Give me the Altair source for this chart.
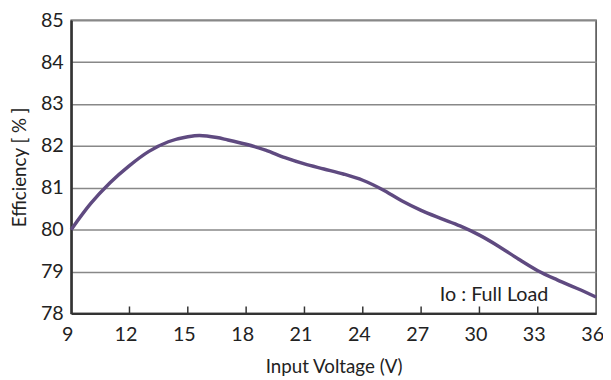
import altair as alt
import pandas as pd

voltage = [9, 10, 11, 12, 13, 14, 15, 15.6, 16.5, 17, 18, 19, 20, 21, 22, 23, 24, 25, 26, 27, 28, 29, 30, 31, 32, 33, 34, 35, 36]
efficiency = [80.0, 80.62, 81.12, 81.53, 81.87, 82.1, 82.22, 82.25, 82.2, 82.15, 82.04, 81.9, 81.72, 81.57, 81.45, 81.33, 81.18, 80.96, 80.69, 80.46, 80.27, 80.09, 79.87, 79.6, 79.3, 79.02, 78.8, 78.6, 78.39]
x_ticks = [9, 12, 15, 18, 21, 24, 27, 30, 33, 36]
inner_ticks = [12, 15, 18, 21, 24, 27, 30, 33]
y_ticks = [78, 79, 80, 81, 82, 83, 84, 85]
note = "Io : Full Load"

FONT = "Lato"
W, H = 532, 297

df = pd.DataFrame({"v": voltage, "e": efficiency})
ticks_df = pd.DataFrame({"v": inner_ticks})

xscale = alt.Scale(domain=[9, 36], nice=False, zero=False)
yscale = alt.Scale(domain=[78, 85], nice=False, zero=False)

line = alt.Chart(df).mark_line(
    color="#5f4a80", strokeWidth=3.5, interpolate="monotone"
).encode(
    x=alt.X("v:Q", scale=xscale, title="Input Voltage (V)",
            axis=alt.Axis(values=x_ticks, grid=False, ticks=False, labelPadding=11,
                          labelOffset=-4,
                          labelFontSize=20, labelFont=FONT, labelColor="#222",
                          titleFont=FONT, titleFontSize=19, titleFontWeight="normal",
                          titleColor="#222", titlePadding=14,
                          domainColor="#333", domainWidth=2.5, labelFlush=False)),
    y=alt.Y("e:Q", scale=yscale, title="Efficiency [ % ]",
            axis=alt.Axis(values=y_ticks, grid=True, gridColor="#888", gridWidth=1.5,
                          ticks=False, labelPadding=8,
                          labelFontSize=20, labelFont=FONT, labelColor="#222",
                          titleFont=FONT, titleFontSize=19, titleFontWeight="normal",
                          titleColor="#222", titlePadding=11,
                          domainColor="#333", domainWidth=2.5, labelFlush=False)),
)

tick_marks = alt.Chart(ticks_df).mark_rule(color="#333", strokeWidth=1.5).encode(
    x=alt.X("v:Q", scale=xscale),
    y=alt.value(H),
    y2=alt.value(H - 7),
)

label = alt.Chart(pd.DataFrame({"t": [note]})).mark_text(
    font=FONT, fontSize=20, color="#222", align="center", baseline="alphabetic"
).encode(
    x=alt.datum(30.75, scale=xscale),
    y=alt.datum(78.3, scale=yscale),
    text="t:N",
)

chart = alt.layer(line, tick_marks, label).properties(
    width=W, height=H,
    autosize=alt.AutoSizeParams(type="none"),
    padding={"left": 64, "top": 10, "right": 7, "bottom": 65},
).configure_view(
    stroke="#444", strokeWidth=1.5
)

chart.save("out.html", embed_options={"renderer": "svg", "actions": False})
